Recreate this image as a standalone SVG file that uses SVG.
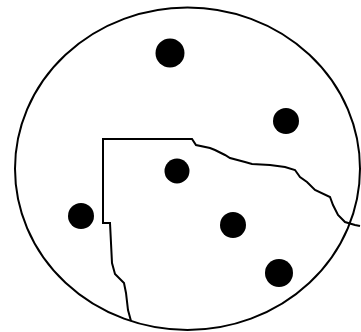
<svg xmlns="http://www.w3.org/2000/svg" width="361" height="332" viewBox="0 0 361 332">
<style>
.ln{fill:none;stroke:#000;stroke-width:2;stroke-linejoin:miter}
.dot{fill:#000}
</style>
<rect width="361" height="332" fill="#fff"/>
<g id="boundary">
<ellipse class="ln" cx="187.5" cy="168.8" rx="172.5" ry="161.2"/>
</g>
<g id="region">
<polyline class="ln" points="131,321 128,310 126,293 124,283 115,274 112,263 110,223 103,223 103,139 192,139 196,145 210,148 215,150 225,155 230,158 245,162 252,164 270,165 285,167 295,170 300,177 307,182 315,190 330,197 333,205 338,215 345,222 355,225 360,226"/>
</g>
<g id="dots">
<circle class="dot" cx="170" cy="53" r="14.5"/>
<circle class="dot" cx="286" cy="121" r="13"/>
<circle class="dot" cx="177" cy="171" r="12.5"/>
<circle class="dot" cx="81" cy="216" r="13"/>
<circle class="dot" cx="233" cy="225" r="13"/>
<circle class="dot" cx="279" cy="273" r="14"/>
</g>
</svg>
